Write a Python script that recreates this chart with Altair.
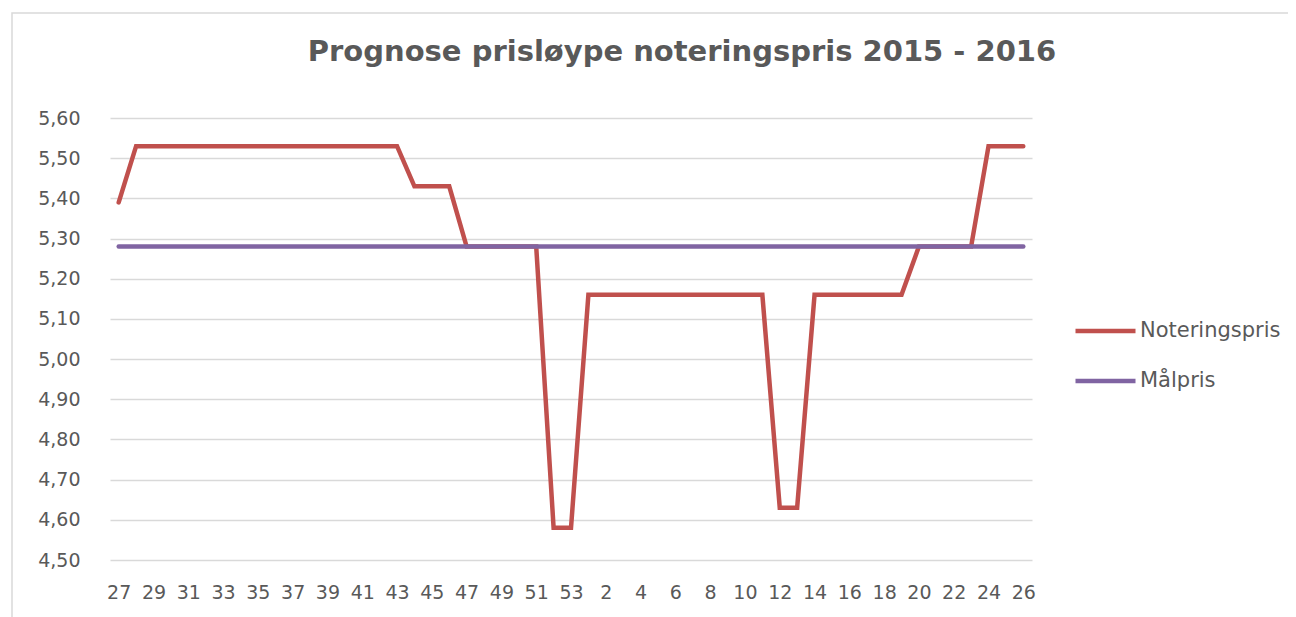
import altair as alt
import pandas as pd

weeks = [27, 28, 29, 30, 31, 32, 33, 34, 35, 36, 37, 38, 39, 40, 41, 42, 43, 44, 45, 46,
         47, 48, 49, 50, 51, 52, 53, 1, 2, 3, 4, 5, 6, 7, 8, 9, 10, 11, 12, 13, 14, 15, 16,
         17, 18, 19, 20, 21, 22, 23, 24, 25, 26]

noteringspris = [5.39, 5.53, 5.53, 5.53, 5.53, 5.53, 5.53, 5.53, 5.53, 5.53, 5.53, 5.53,
                 5.53, 5.53, 5.53, 5.53, 5.53, 5.43, 5.43, 5.43, 5.28, 5.28, 5.28, 5.28,
                 5.28, 4.58, 4.58, 5.16, 5.16, 5.16, 5.16, 5.16, 5.16, 5.16, 5.16, 5.16,
                 5.16, 5.16, 4.63, 4.63, 5.16, 5.16, 5.16, 5.16, 5.16, 5.16, 5.28, 5.28,
                 5.28, 5.28, 5.53, 5.53, 5.53]

malpris = [5.28, 5.28, 5.28, 5.28, 5.28, 5.28, 5.28, 5.28, 5.28, 5.28, 5.28, 5.28, 5.28,
           5.28, 5.28, 5.28, 5.28, 5.28, 5.28, 5.28, 5.28, 5.28, 5.28, 5.28, 5.28, 5.28,
           5.28, 5.28, 5.28, 5.28, 5.28, 5.28, 5.28, 5.28, 5.28, 5.28, 5.28, 5.28, 5.28,
           5.28, 5.28, 5.28, 5.28, 5.28, 5.28, 5.28, 5.28, 5.28, 5.28, 5.28, 5.28, 5.28, 5.28]

tick_labels = ["27", "29", "31", "33", "35", "37", "39", "41", "43", "45", "47", "49", "51",
               "53", "2", "4", "6", "8", "10", "12", "14", "16", "18", "20", "22", "24", "26"]

series_names = ["Noteringspris", "Målpris"]
series_colors = ["#C0504D", "#8064A2"]
title_text = "Prognose prisløype noteringspris 2015 - 2016"

week_labels = [str(w) for w in weeks]
df1 = pd.DataFrame({"week": week_labels, "value": noteringspris, "serie": series_names[0], "order": range(len(weeks))})
df2 = pd.DataFrame({"week": week_labels, "value": malpris, "serie": series_names[1], "order": range(len(weeks))})

FONT = "DejaVu Sans"
GRAY = "#595959"

x_enc = alt.X("week:O", sort=week_labels, scale=alt.Scale(type="point", padding=0.5),
              axis=alt.Axis(values=tick_labels, title=None, labelAngle=0, ticks=False,
                            domain=False, grid=False, labelFont=FONT, labelFontSize=19,
                            labelColor=GRAY, labelPadding=23, labelOverlap=False))
y_enc = alt.Y("value:Q", scale=alt.Scale(domain=[4.5, 5.6], nice=False, zero=False),
              axis=alt.Axis(values=[4.5, 4.6, 4.7, 4.8, 4.9, 5.0, 5.1, 5.2, 5.3, 5.4, 5.5, 5.6],
                            labelExpr="replace(format(datum.value, '.2f'), '.', ',')",
                            title=None, ticks=False, domain=False, grid=True,
                            gridColor="#D9D9D9", gridWidth=1.5, labelFont=FONT,
                            labelFontSize=19, labelColor=GRAY, labelPadding=30))
color_enc = alt.Color("serie:N", scale=alt.Scale(domain=series_names, range=series_colors),
                      legend=alt.Legend(title=None, orient="none", legendX=963, legendY=203,
                                        symbolType="stroke", symbolSize=3600,
                                        symbolStrokeWidth=4.5, clipHeight=20, rowPadding=29,
                                        labelFont=FONT, labelFontSize=21, labelColor=GRAY,
                                        labelOffset=2, padding=0))

frame = alt.Chart(pd.DataFrame({"a": [0]})).mark_rect(
    fill=None, stroke="#D9D9D9", strokeWidth=1.5).encode(
    x=alt.value(-98), x2=alt.value(1300), y=alt.value(-105), y2=alt.value(600))

red = alt.Chart(df1).mark_line(strokeWidth=4.5, strokeCap="round", strokeJoin="miter").encode(
    x=x_enc, y=y_enc, color=color_enc, order="order:Q")
purple = alt.Chart(df2).mark_line(strokeWidth=4.5, strokeCap="round").encode(
    x=x_enc, y=y_enc, color=color_enc, order="order:Q")

chart = alt.layer(frame, red, purple).properties(
    width=922, height=442,
    title=alt.TitleParams(text=title_text, font=FONT, fontSize=29, fontWeight="bold",
                          color=GRAY, anchor="middle", frame="group", dx=111,
                          baseline="alphabetic", offset=-78),
    autosize=alt.AutoSizeParams(type="none"),
    padding={"left": 102, "top": 110, "right": 256, "bottom": 57},
).configure_view(stroke=None)

chart.save("out.html", embed_options={"renderer": "svg", "actions": False})
